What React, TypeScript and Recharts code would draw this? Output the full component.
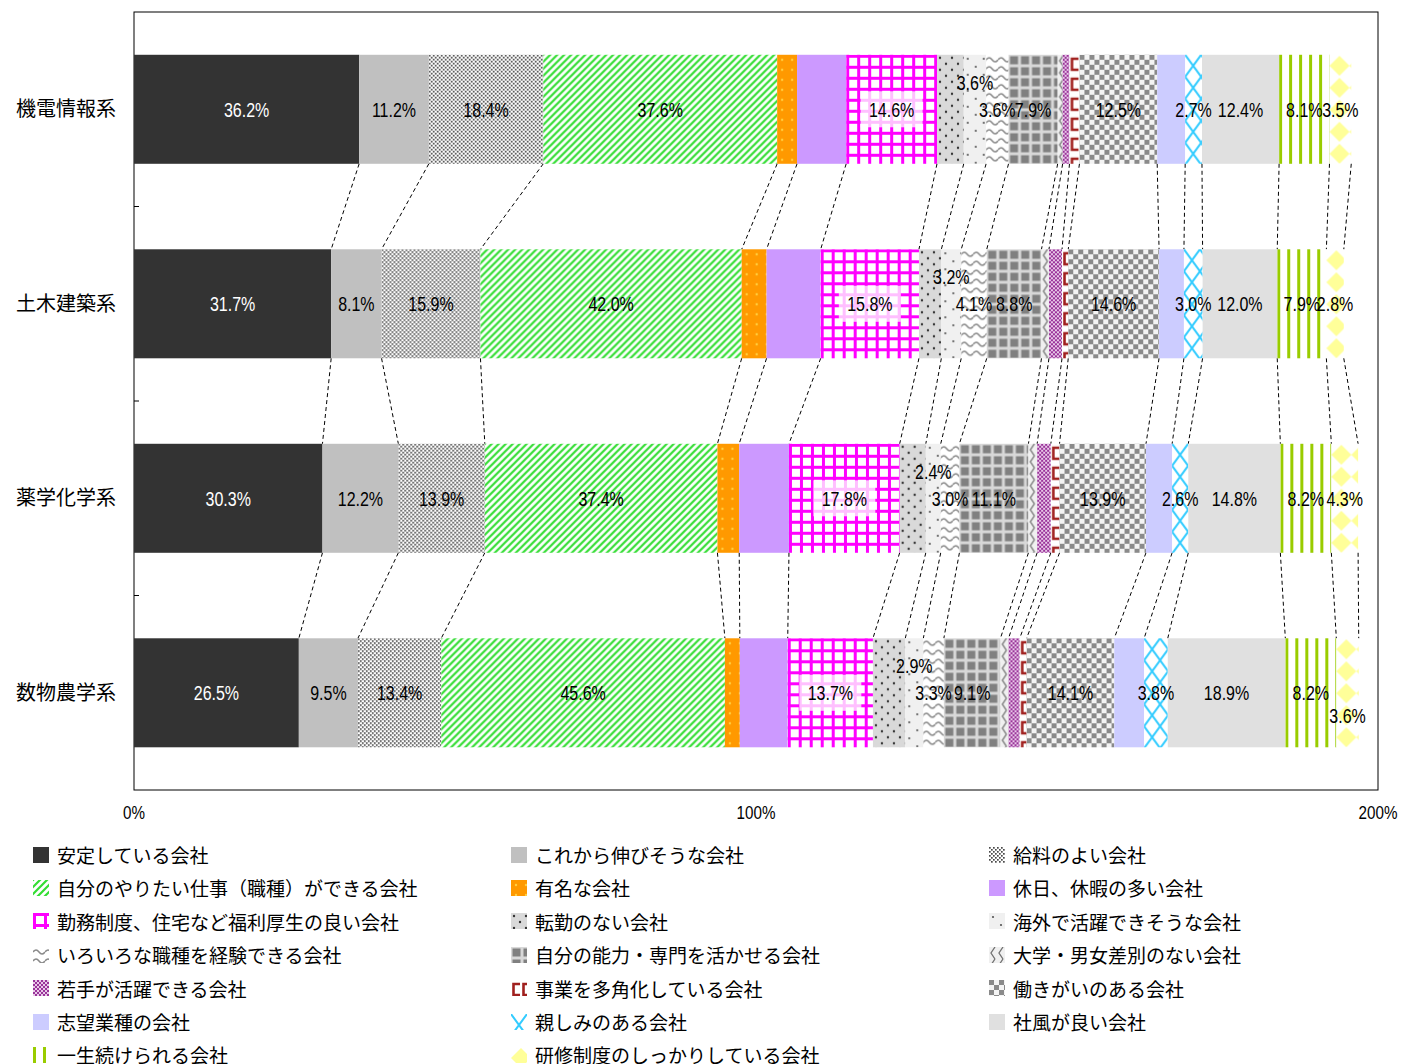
import { BarChart, Bar, XAxis, YAxis, LabelList, Customized } from 'recharts';

// Categories (y axis) and series (stack order = legend order)
const CATEGORIES = ['機電情報系', '土木建築系', '薬学化学系', '数物農学系'];

const SERIES_NAMES = [
  '安定している会社',
  'これから伸びそうな会社',
  '給料のよい会社',
  '自分のやりたい仕事（職種）ができる会社',
  '有名な会社',
  '休日、休暇の多い会社',
  '勤務制度、住宅など福利厚生の良い会社',
  '転勤のない会社',
  '海外で活躍できそうな会社',
  'いろいろな職種を経験できる会社',
  '自分の能力・専門を活かせる会社',
  '大学・男女差別のない会社',
  '若手が活躍できる会社',
  '事業を多角化している会社',
  '働きがいのある会社',
  '志望業種の会社',
  '親しみのある会社',
  '社風が良い会社',
  '一生続けられる会社',
  '研修制度のしっかりしている会社',
];

// Values (%) per category, in series order
const KIDEN = [36.2, 11.2, 18.4, 37.6, 3.2, 7.9, 14.6, 4.3, 3.6, 3.6, 7.9, 0.8, 1.1, 1.6, 12.5, 4.5, 2.7, 12.4, 8.1, 3.5];
const DOBOKU = [31.7, 8.1, 15.9, 42.0, 4.0, 8.7, 15.8, 3.6, 3.2, 4.1, 8.8, 1.2, 2.1, 1.0, 14.6, 4.0, 3.0, 12.0, 7.9, 2.8];
const YAKUGAKU = [30.3, 12.2, 13.9, 37.4, 3.5, 8.0, 17.8, 4.2, 2.4, 3.0, 11.1, 1.4, 2.2, 1.4, 13.9, 4.2, 2.6, 14.8, 8.2, 4.3];
const SUBUTSU = [26.5, 9.5, 13.4, 45.6, 2.4, 7.7, 13.7, 5.2, 2.9, 3.3, 9.1, 1.3, 1.8, 1.1, 14.1, 4.8, 3.8, 18.9, 8.2, 3.6];

const X_TICKS = [0, 100, 200];

// series that carry a data label
const LABELED = [0, 1, 2, 3, 6, 8, 9, 10, 14, 16, 17, 18, 19];

const ROW_VALUES = [KIDEN, DOBOKU, YAKUGAKU, SUBUTSU];

const data = CATEGORIES.map((name, i) => {
  const row: Record<string, string | number> = { name };
  SERIES_NAMES.forEach((_, s) => {
    row[`s${s}`] = ROW_VALUES[i][s];
  });
  return row;
});

// cumulative end of each segment, used for the series lines
const CUM = ROW_VALUES.map((r) => {
  let c = 0;
  return r.map((v) => (c += v));
});

// Layout
const WIDTH = 1401;
const HEIGHT = 830;
const MARGIN = { top: 12, right: 23, left: 0, bottom: 0 };
const X_AXIS_H = 40;
const Y_AXIS_W = 134;
const PLOT_TOP = MARGIN.top;
const PLOT_BOTTOM = HEIGHT - MARGIN.bottom - X_AXIS_H;
const PLOT_LEFT = Y_AXIS_W;
const PLOT_RIGHT = WIDTH - MARGIN.right;
const BAND = (PLOT_BOTTOM - PLOT_TOP) / CATEGORIES.length;

const JP_FONT = "'Noto Sans CJK JP', 'Noto Sans', sans-serif";
const NUM_FONT = "'Liberation Sans', Arial, sans-serif";
const NARROW = 0.8;

const FILLS = [
  '#333333',
  '#c0c0c0',
  'url(#p2)',
  'url(#p3)',
  'url(#p4)',
  '#cc99ff',
  'url(#p6)',
  'url(#p7)',
  'url(#p8)',
  'url(#p9)',
  'url(#p10)',
  'url(#p11)',
  'url(#p12)',
  'url(#p13)',
  'url(#p14)',
  '#ccccff',
  'url(#p16)',
  '#e0e0e0',
  'url(#p18)',
  'url(#p19)',
];

function Patterns() {
  return (
    <svg width={0} height={0} style={{ position: 'absolute' }}>
      <defs>
        <pattern id="p2" width="4" height="4" patternUnits="userSpaceOnUse">
          <rect width="4" height="4" fill="#ffffff" />
          <rect x="0" y="0" width="1.7" height="1.7" fill="#4a4a4a" />
          <rect x="2" y="2" width="1.7" height="1.7" fill="#4a4a4a" />
        </pattern>
        <pattern id="p3" width="7" height="7" patternUnits="userSpaceOnUse">
          <rect width="7" height="7" fill="#ffffff" />
          <path d="M0 7 L7 0 M-2 2 L2 -2 M5 9 L9 5" stroke="#33dd33" strokeWidth="2.2" />
        </pattern>
        <pattern id="p4" width="10" height="10" patternUnits="userSpaceOnUse">
          <rect width="10" height="10" fill="#ff9900" />
          <circle cx="5" cy="5" r="1.2" fill="#ffd040" />
        </pattern>
        <pattern id="p6" width="11" height="11" patternUnits="userSpaceOnUse">
          <rect width="11" height="11" fill="#ffffff" />
          <rect x="0" y="0" width="3" height="11" fill="#ff00ff" />
          <rect x="0" y="0" width="11" height="3" fill="#ff00ff" />
        </pattern>
        <pattern id="p7" width="12" height="12" patternUnits="userSpaceOnUse">
          <rect width="12" height="12" fill="#d9d9d9" />
          <circle cx="3" cy="3" r="1.2" fill="#333333" />
          <circle cx="9" cy="9" r="1.2" fill="#333333" />
        </pattern>
        <pattern id="p8" width="16" height="16" patternUnits="userSpaceOnUse">
          <rect width="16" height="16" fill="#f0f0f0" />
          <circle cx="4" cy="4" r="1.1" fill="#555555" />
          <circle cx="12" cy="12" r="1.1" fill="#555555" />
        </pattern>
        <pattern id="p9" width="12" height="9" patternUnits="userSpaceOnUse">
          <rect width="12" height="9" fill="#ffffff" />
          <path d="M0 5 Q3 1 6 5 T12 5" stroke="#8a8a8a" strokeWidth="1.5" fill="none" />
        </pattern>
        <pattern id="p10" width="11" height="11" patternUnits="userSpaceOnUse">
          <rect width="11" height="11" fill="#d8d8d8" />
          <rect x="1.5" y="1.5" width="8" height="8" fill="#808080" />
        </pattern>
        <pattern id="p11" width="8" height="12" patternUnits="userSpaceOnUse">
          <rect width="8" height="12" fill="#f0f0f0" />
          <path d="M6 0 L2 6 L6 12" stroke="#707070" strokeWidth="1.3" fill="none" />
        </pattern>
        <pattern id="p12" width="4" height="4" patternUnits="userSpaceOnUse">
          <rect width="4" height="4" fill="#e8c8e8" />
          <rect x="0" y="0" width="2" height="2" fill="#993399" />
          <rect x="2" y="2" width="2" height="2" fill="#993399" />
        </pattern>
        <pattern id="p13" width="10" height="20" patternUnits="userSpaceOnUse">
          <rect width="10" height="20" fill="#ffffff" />
          <path d="M9 4 H2.5 V15 H9" stroke="#a0201e" strokeWidth="2.6" fill="none" />
        </pattern>
        <pattern id="p14" width="10" height="10" patternUnits="userSpaceOnUse">
          <rect width="10" height="10" fill="#f4f4f4" />
          <rect x="0" y="0" width="5" height="5" fill="#8a8a8a" />
          <rect x="5" y="5" width="5" height="5" fill="#8a8a8a" />
        </pattern>
        <pattern id="p16" width="16" height="22" patternUnits="userSpaceOnUse">
          <rect width="16" height="22" fill="#ffffff" />
          <path d="M0 0 L16 22 M16 0 L0 22" stroke="#33ccff" strokeWidth="2" />
        </pattern>
        <pattern id="p18" width="10" height="10" patternUnits="userSpaceOnUse">
          <rect width="10" height="10" fill="#ffffff" />
          <rect x="0" y="0" width="3" height="10" fill="#99cc00" />
        </pattern>
        <pattern id="p19" width="20" height="22" patternUnits="userSpaceOnUse">
          <rect width="20" height="22" fill="#ffffff" />
          <polygon points="10,1 20,11 10,21 0,11" fill="#ffff99" />
        </pattern>
      </defs>
    </svg>
  );
}

// Bar segment (pattern anchored at its own corner) plus the dashed
// series line to the same segment of the next category
const makeShape = (s: number) => (props: any) => {
  const { x, y, width, height, index } = props;
  const v = ROW_VALUES[index][s];
  let line = null;
  if (index < CATEGORIES.length - 1 && v > 0) {
    const k = width / v;
    const right = x + width;
    const nextRight = right + k * (CUM[index + 1][s] - CUM[index][s]);
    line = (
      <line
        x1={right}
        y1={y + height}
        x2={nextRight}
        y2={y + BAND}
        stroke="#000"
        strokeWidth={1}
        strokeDasharray="4 3"
      />
    );
  }
  return (
    <g>
      <g transform={`translate(${x},${y})`}>
        <rect x={0} y={0} width={width} height={height} fill={FILLS[s]} />
      </g>
      {line}
    </g>
  );
};

function NarrowText({ x, y, text, size, fill }: { x: number; y: number; text: string; size: number; fill: string }) {
  return (
    <text
      transform={`translate(${x},${y}) scale(${NARROW},1)`}
      dy="0.36em"
      textAnchor="middle"
      fontSize={size}
      fontFamily={NUM_FONT}
      fill={fill}
    >
      {text}
    </text>
  );
}

const makeLabel = (s: number) => (props: any) => {
  const { x, y, width, height, index } = props;
  const v = ROW_VALUES[index][s];
  const cx = x + width / 2;
  let cy = y + height / 2;
  if (s === 8) cy -= 27;
  if (s === 19 && index === 3) cy += 23;
  return (
    <g>
      {s === 6 && (
        <rect x={cx - 31} y={cy - 18} width={62} height={36} fill="#ffffff" fillOpacity={0.75} />
      )}
      <NarrowText x={cx} y={cy} text={`${v.toFixed(1)}%`} size={20} fill={s === 0 ? '#ffffff' : '#000000'} />
    </g>
  );
};

function CategoryTick(props: any) {
  const { y, payload } = props;
  return (
    <text x={PLOT_LEFT - 18} y={y} dy="0.36em" textAnchor="end" fontSize={20} fontFamily={JP_FONT} fill="#000">
      {payload.value}
    </text>
  );
}

function PercentTick(props: any) {
  const { x, y, payload } = props;
  return <NarrowText x={x} y={y + 10} text={`${payload.value}%`} size={19} fill="#000" />;
}

function PlotFrame() {
  return (
    <g>
      <rect
        x={PLOT_LEFT}
        y={PLOT_TOP}
        width={PLOT_RIGHT - PLOT_LEFT}
        height={PLOT_BOTTOM - PLOT_TOP}
        fill="none"
        stroke="#000"
        strokeWidth={1}
      />
      {CATEGORIES.slice(1).map((c, i) => (
        <line
          key={c}
          x1={PLOT_LEFT}
          x2={PLOT_LEFT + 5}
          y1={PLOT_TOP + BAND * (i + 1)}
          y2={PLOT_TOP + BAND * (i + 1)}
          stroke="#000"
        />
      ))}
    </g>
  );
}

function LegendBlock() {
  const cols = [33, 511, 989];
  return (
    <div style={{ position: 'absolute', left: 0, top: 838, width: WIDTH, height: 226 }}>
      {SERIES_NAMES.map((name, s) => {
        const col = s % 3;
        const row = Math.floor(s / 3);
        return (
          <div
            key={name}
            style={{
              position: 'absolute',
              left: cols[col],
              top: row * 33.4,
              height: 33,
              display: 'flex',
              alignItems: 'center',
              whiteSpace: 'nowrap',
            }}
          >
            <svg width={16} height={16} style={{ marginRight: 8 }}>
              <rect width={16} height={16} fill={FILLS[s]} />
            </svg>
            <span style={{ fontSize: 19, fontFamily: JP_FONT, color: '#000', lineHeight: '33px' }}>{name}</span>
          </div>
        );
      })}
    </div>
  );
}

export default function App() {
  return (
    <div style={{ position: 'absolute', left: 0, top: 0, width: WIDTH, height: 1064, background: '#fff', overflow: 'hidden' }}>
      <Patterns />
      <BarChart
        width={WIDTH}
        height={HEIGHT}
        data={data}
        layout="vertical"
        margin={MARGIN}
        barCategoryGap="22%"
      >
        <XAxis
          type="number"
          domain={[0, 200]}
          ticks={X_TICKS}
          axisLine={false}
          tickLine={false}
          tickMargin={6}
          height={X_AXIS_H}
          tick={<PercentTick />}
          allowDataOverflow
        />
        <YAxis
          type="category"
          dataKey="name"
          width={Y_AXIS_W}
          axisLine={false}
          tickLine={false}
          tick={<CategoryTick />}
        />
        {SERIES_NAMES.map((name, s) => (
          <Bar
            key={name}
            dataKey={`s${s}`}
            name={name}
            stackId="a"
            fill={FILLS[s]}
            isAnimationActive={false}
            shape={makeShape(s)}
          >
            {LABELED.includes(s) && <LabelList dataKey={`s${s}`} content={makeLabel(s)} />}
          </Bar>
        ))}
        <Customized component={PlotFrame} />
      </BarChart>
      <LegendBlock />
    </div>
  );
}
